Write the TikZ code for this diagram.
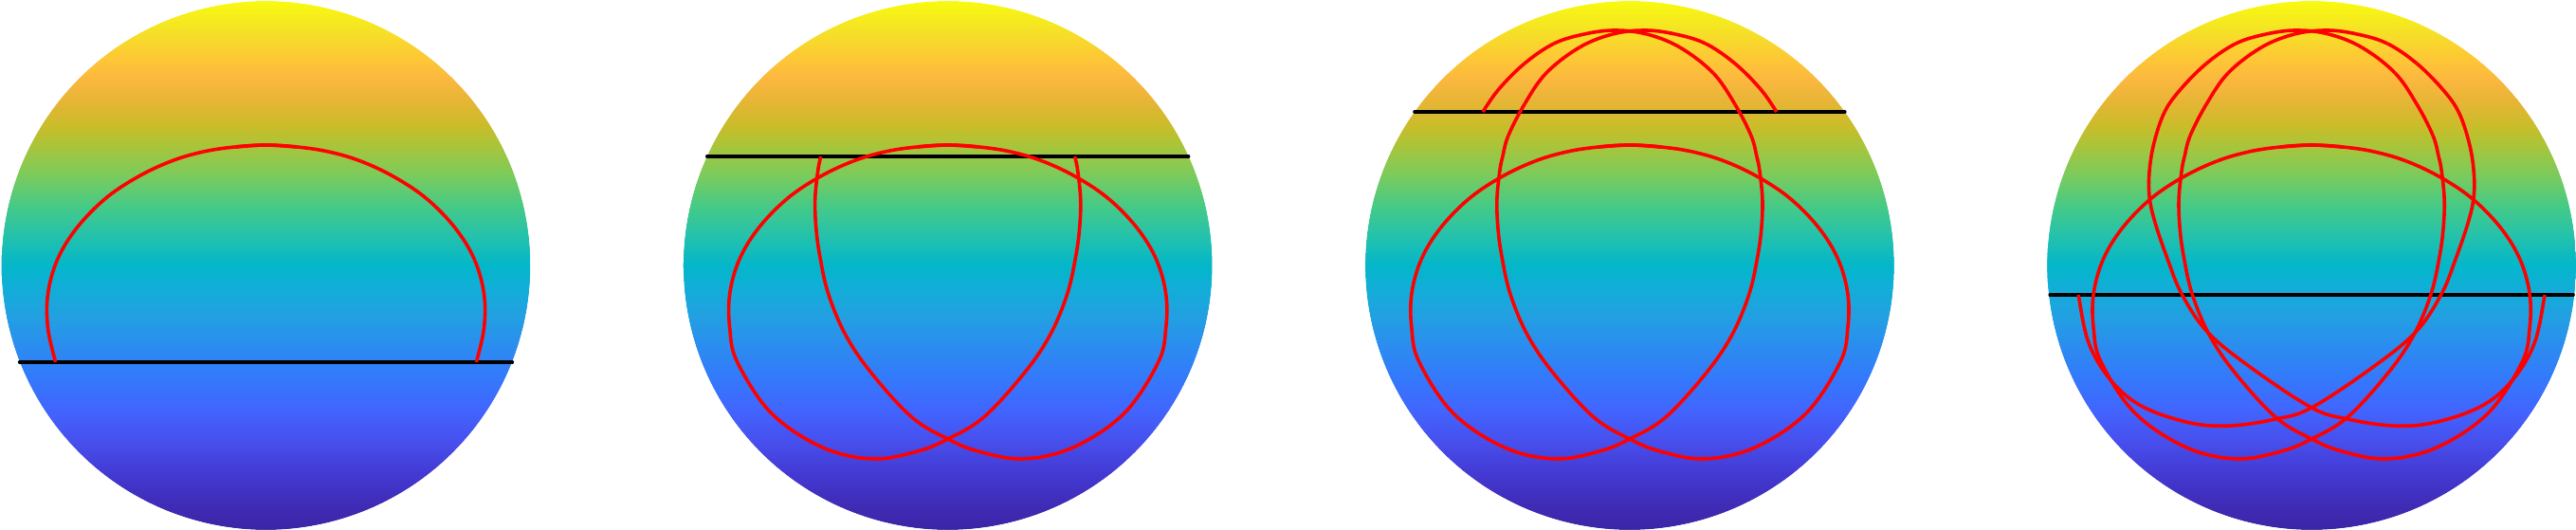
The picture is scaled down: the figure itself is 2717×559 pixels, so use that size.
\documentclass[tikz,border=0pt]{standalone}
\usepackage{xcolor}
\definecolor{pa}{HTML}{3B25A6}
\definecolor{pb}{HTML}{3F2BB5}
\definecolor{pc}{HTML}{4339D2}
\definecolor{pd}{HTML}{474EEC}
\definecolor{pe}{HTML}{4264FE}
\definecolor{pf}{HTML}{3478FC}
\definecolor{pg}{HTML}{2C8BF0}
\definecolor{ph}{HTML}{22A0E2}
\definecolor{pi}{HTML}{10AFD6}
\definecolor{pj}{HTML}{03B6CA}
\definecolor{pk}{HTML}{22C1AE}
\definecolor{pl}{HTML}{45CA87}
\definecolor{pm}{HTML}{7CCB5B}
\definecolor{pn}{HTML}{ADC437}
\definecolor{po}{HTML}{C8BD2A}
\definecolor{pp}{HTML}{E6B535}
\definecolor{pq}{HTML}{FBB73F}
\definecolor{pr}{HTML}{FDC835}
\definecolor{ps}{HTML}{F5E325}
\definecolor{pt}{HTML}{F8FA0F}
\pgfdeclareverticalshading{parulashade}{100bp}{color(0bp)=(pa); color(25bp)=(pa); color(27.32bp)=(pb); color(30.28bp)=(pc); color(33.23bp)=(pd); color(36.27bp)=(pe); color(39.22bp)=(pf); color(42.17bp)=(pg); color(45.21bp)=(ph); color(48.16bp)=(pi); color(49.95bp)=(pj); color(52.64bp)=(pk); color(55.59bp)=(pl); color(58.63bp)=(pm); color(61.58bp)=(pn); color(63.1bp)=(po); color(65.5bp)=(pp); color(67.58bp)=(pq); color(69.63bp)=(pr); color(72.32bp)=(ps); color(75bp)=(pt); color(100bp)=(pt)}
\tikzset{
  rc/.style={draw=red, line width=3.6pt, line join=round},
  chord/.style={draw=black, line width=3.4pt, line cap=round},
  rim/.style={draw=white, line width=4pt}
}
% forward half of the red trajectory (relative to sphere centre, y downwards)
\def\PX{{-33,0,33,66,100,136,170,200,220,230,230,222,186,132,79,32,0,-38,-81,-108,-126,-135,-139,-140,-137,-134,-128,-111,-88,-53,-18,16,48,80,111,138,155,166,171,171,165,152,137,110,65,0,-38,-85,-128,-178,-211,-235,-246}}
\def\PY{{-125,-127,-125,-120,-110,-93,-70,-39,-6,30,66,102,156,192,204,196,183,160,113,73,30,-10,-40,-70,-100,-115,-137,-170,-203,-230,-244,-248,-244,-234,-213,-186,-162,-130,-100,-72,-45,-7,30,70,107,150,162,169,166,149,122,82,31}}
% Catmull-Rom curve through the first #1 points, drawn as dense polylines
\newcommand\crcurve[1]{%
  \pgfmathtruncatemacro\crlast{#1-2}%
  \foreach \i in {0,...,\crlast}{%
    \pgfmathtruncatemacro\ia{max(\i-1,0)}%
    \pgfmathtruncatemacro\ic{\i+1}%
    \pgfmathtruncatemacro\id{min(\i+2,#1-1)}%
    \pgfmathsetmacro\xa{\PX[\ia]}\pgfmathsetmacro\xb{\PX[\i]}%
    \pgfmathsetmacro\xc{\PX[\ic]}\pgfmathsetmacro\xd{\PX[\id]}%
    \pgfmathsetmacro\ya{\PY[\ia]}\pgfmathsetmacro\yb{\PY[\i]}%
    \pgfmathsetmacro\yc{\PY[\ic]}\pgfmathsetmacro\yd{\PY[\id]}%
    \draw[rc] plot[domain=0:1, samples=10, variable=\t]
      ({0.5*(2*(\xb)+((\xc)-(\xa))*\t+(2*(\xa)-5*(\xb)+4*(\xc)-(\xd))*\t*\t+(3*(\xb)-(\xa)-3*(\xc)+(\xd))*\t*\t*\t)},
       {0.5*(2*(\yb)+((\yc)-(\ya))*\t+(2*(\ya)-5*(\yb)+4*(\yc)-(\yd))*\t*\t+(3*(\yb)-(\ya)-3*(\yc)+(\yd))*\t*\t*\t)});
  }%
}
\newcommand\bothhalves[1]{\crcurve{#1}\begin{scope}[xscale=-1]\crcurve{#1}\end{scope}}
\begin{document}
\begin{tikzpicture}[x=1pt,y=-1pt]
\useasboundingbox (0,0) rectangle (2717,559);
\foreach \k/\cx in {1/280.5,2/999.7,3/1718.9,4/2438.1} {
  \coordinate (c\k) at (\cx,280);
  \begin{scope}[shift={(c\k)}]
    \begin{scope}
      \clip plot[domain=0:360, samples=241, variable=\t] ({279*cos(\t)},{279*sin(\t)}) -- cycle;
      \shade[shading=parulashade] (-280,-279) rectangle (280,279);
    \end{scope}
    \draw[rim] plot[domain=0:360, samples=241, variable=\t] ({281*cos(\t)},{281*sin(\t)}) -- cycle;
  \end{scope}
}
% panel 1
\begin{scope}[shift={(c1)}]
  \coordinate (l1a) at (-260,102);
  \coordinate (l1b) at (260,102);
  \draw[chord] (l1a) -- (l1b);
  \bothhalves{12}
\end{scope}
% panel 2
\begin{scope}[shift={(c2)}]
  \coordinate (l2a) at (-254,-115);
  \coordinate (l2b) at (254,-115);
  \draw[chord] (l2a) -- (l2b);
  \bothhalves{26}
\end{scope}
% panel 3
\begin{scope}[shift={(c3)}]
  \coordinate (l3a) at (-227,-162);
  \coordinate (l3b) at (227,-162);
  \draw[chord] (l3a) -- (l3b);
  \bothhalves{37}
\end{scope}
% panel 4
\begin{scope}[shift={(c4)}]
  \coordinate (l4a) at (-276,31);
  \coordinate (l4b) at (276,31);
  \draw[chord] (l4a) -- (l4b);
  \bothhalves{53}
\end{scope}
\end{tikzpicture}
\end{document}
